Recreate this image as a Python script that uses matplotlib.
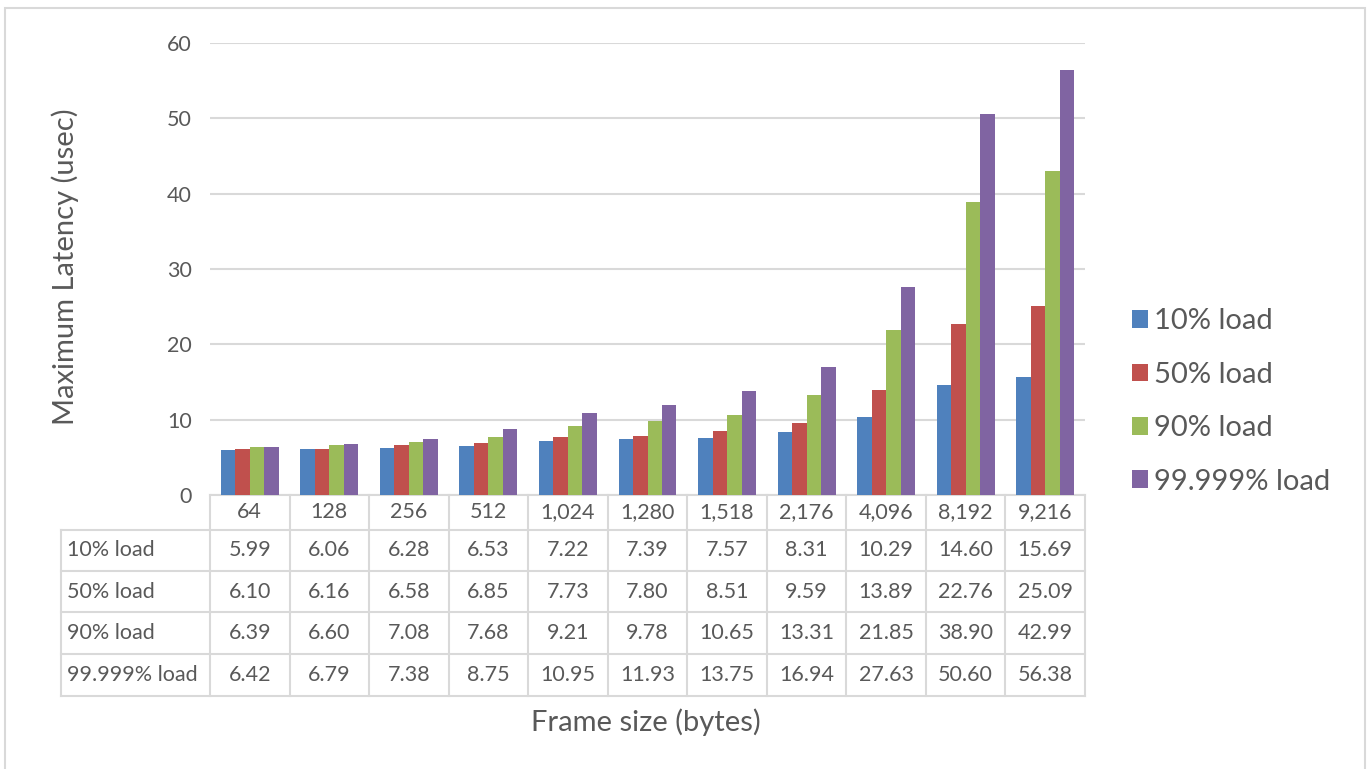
import matplotlib
matplotlib.use("Agg")
import matplotlib.pyplot as plt
import matplotlib.transforms as mtransforms
from matplotlib.patches import Rectangle
import numpy as np

plt.rcParams['font.family'] = ['Lato', 'DejaVu Sans']

frame_sizes = [64, 128, 256, 512, 1024, 1280, 1518, 2176, 4096, 8192, 9216]
series_names = ["10% load", "50% load", "90% load", "99.999% load"]
load_10 = [5.99, 6.06, 6.28, 6.53, 7.22, 7.39, 7.57, 8.31, 10.29, 14.60, 15.69]
load_50 = [6.10, 6.16, 6.58, 6.85, 7.73, 7.80, 8.51, 9.59, 13.89, 22.76, 25.09]
load_90 = [6.39, 6.60, 7.08, 7.68, 9.21, 9.78, 10.65, 13.31, 21.85, 38.90, 42.99]
load_99999 = [6.42, 6.79, 7.38, 8.75, 10.95, 11.93, 13.75, 16.94, 27.63, 50.60, 56.38]
series = [load_10, load_50, load_90, load_99999]
colors = ["#4F81BD", "#C0504D", "#9BBB59", "#8064A2"]
y_ticks = [0, 10, 20, 30, 40, 50, 60]

TEXT = "#595959"
GRID = "#D9D9D9"

W, H = 1367, 769
fig = plt.figure(figsize=(W / 100, H / 100), dpi=100)

# outer chart border
fig.patches.append(Rectangle((5 / W, -0.01), (1360 / W), (H - 8) / H + 0.01,
                             transform=fig.transFigure, fill=False,
                             edgecolor=GRID, linewidth=1.5))

ax_l, ax_r, ax_top, ax_bot = 210, 1085, 43, 495
ax = fig.add_axes([ax_l / W, 1 - ax_bot / H, (ax_r - ax_l) / W, (ax_bot - ax_top) / H])

n = len(frame_sizes)
x = np.arange(n)
bw = 0.182
for i, (vals, c, name) in enumerate(zip(series, colors, series_names)):
    ax.bar(x + (i - 1.5) * bw, vals, width=bw, color=c, label=name, zorder=3)

ax.set_xlim(-0.5, n - 0.5)
ax.set_ylim(0, 60)
ax.set_yticks(y_ticks)
ax.tick_params(axis='y', length=0, labelsize=15.5, labelcolor=TEXT, pad=13)
ax.set_xticks([])
ax.grid(axis='y', color=GRID, linewidth=1.5, zorder=0)
for s in ax.spines.values():
    s.set_visible(False)

fig.text(65 / W, 1 - 267 / H, "Maximum Latency (usec)", rotation=90,
         ha='center', va='center', fontsize=21, color=TEXT)

# data table below the plot
trans = mtransforms.blended_transform_factory(ax.transData, ax.transAxes)
ax_h = ax_bot - ax_top
def ypix(p):
    return (ax_bot - p) / ax_h

row_edges = [495, 530, 571, 612, 654, 696]
ye = [ypix(p) for p in row_edges]
x_left_col = -0.5 - (ax_l - 61) / ((ax_r - ax_l) / n)
x_edges = [-0.5 + k for k in range(n + 1)]
lkw = dict(color=GRID, linewidth=1.5, transform=trans, clip_on=False, zorder=1)

# horizontal lines
ax.plot([x_edges[0], x_edges[-1]], [ye[0], ye[0]], **lkw)
for yy in ye[1:]:
    ax.plot([x_left_col, x_edges[-1]], [yy, yy], **lkw)
# vertical lines
for xx in x_edges:
    ax.plot([xx, xx], [ye[0], ye[-1]], **lkw)
ax.plot([x_left_col, x_left_col], [ye[1], ye[-1]], **lkw)

tkw = dict(transform=trans, clip_on=False, color=TEXT, va='center')
hdr_y = (ye[0] + ye[1]) / 2
for k, fs in enumerate(frame_sizes):
    ax.text(k, hdr_y, f"{fs:,}", ha='center', fontsize=15.5, **tkw)
for r, (name, vals) in enumerate(zip(series_names, series)):
    cy = (ye[r + 1] + ye[r + 2]) / 2
    ax.text(x_left_col + 0.08, cy, name, ha='left', fontsize=15.5, **tkw)
    for k, v in enumerate(vals):
        ax.text(k, cy, f"{v:.2f}", ha='center', fontsize=15.5, **tkw)

fig.text(646 / W, 1 - 722 / H, "Frame size (bytes)", ha='center', va='center',
         fontsize=21, color=TEXT)

leg = fig.legend(loc='upper left', bbox_to_anchor=(1106 / W, 1 - 282 / H),
                 frameon=False, fontsize=21, labelcolor=TEXT,
                 handlelength=0.55, handleheight=0.55, handletextpad=0.2,
                 labelspacing=0.94)

fig.savefig("out.png", dpi=100, facecolor='white')
